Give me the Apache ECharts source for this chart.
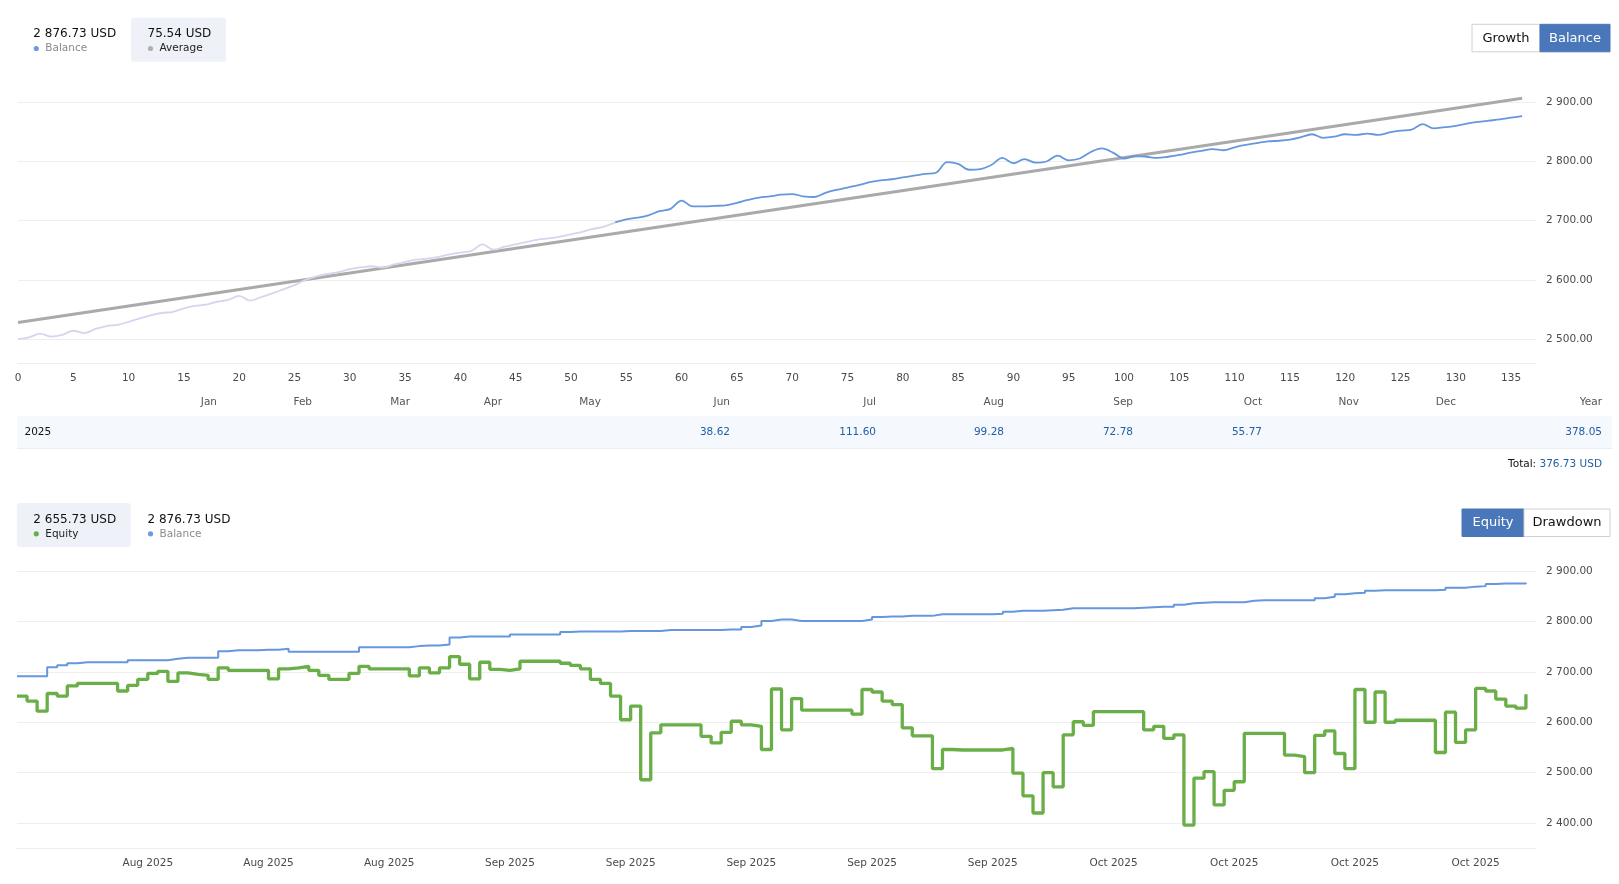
<!DOCTYPE html>
<html><head><meta charset="utf-8">
<script src="https://cdn.jsdelivr.net/npm/echarts@6/dist/echarts.min.js"></script>
<style>html,body{margin:0;padding:0;background:#fff}#c{width:1619px;height:884px}</style>
</head><body><div id="c"></div>
<script>
// ---------- DATA ----------
// Balance per trade (top chart), trade index 0..136
const tradeBalance = [
 2500,2503,2509,2504,2507,2514,2510,2517,2522,2524,
 2529,2535,2540,2544,2546,2552,2556,2558,2563,2566,
 2573,2565,2571,2577,2584,2591,2600,2606,2610,2613,
 2618,2621,2623,2621,2626,2630,2634,2636,2639,2643,
 2646,2649,2660,2651,2656,2660,2664,2668,2670,2673,
 2677,2681,2686,2690,2697,2702,2705,2709,2716,2720,
 2734,2724,2724,2725,2726,2730,2735,2739,2741,2744,
 2745,2741,2740,2747,2752,2756,2760,2765,2768,2770,
 2773,2776,2779,2781,2799,2796,2786,2787,2794,2806,
 2797,2804,2798,2800,2810,2802,2805,2816,2822,2815,
 2805,2809,2808,2806,2808,2811,2815,2818,2821,2819,
 2824,2828,2831,2834,2835,2837,2841,2846,2840,2842,
 2846,2845,2847,2845,2849,2852,2854,2863,2856,2858,
 2860,2864,2867,2869,2871,2874,2876.73
];
const highlightFromTrade = 54;          // balance line turns blue from this trade
const averageStart = 2528;              // trend line value at first trade
const averageEnd = 2907;                // trend line value at last trade

const legendTop = [
  {value: '2 876.73 USD', name: 'Balance', color: '#6a9be3', active: false},
  {value: '75.54 USD', name: 'Average', color: '#b0b0b0', active: true}
];
const legendBottom = [
  {value: '2 655.73 USD', name: 'Equity', color: '#6aae47', active: true},
  {value: '2 876.73 USD', name: 'Balance', color: '#6a9be3', active: false}
];

const monthNames = ['Jan','Feb','Mar','Apr','May','Jun','Jul','Aug','Sep','Oct','Nov','Dec','Year'];
const monthValues = [null,null,null,null,null,'38.62','111.60','99.28','72.78','55.77',null,null,'378.05'];
const yearLabel = '2025';
const totalValue = '376.73 USD';

// Equity / balance (bottom chart), sampled points
const equity = [
 2652,2642,2622,2657,2652,2672,2677,2677,2677,2677,
 2662,2673,2685,2697,2701,2681,2698,2695,2693,2685,
 2708,2703,2703,2703,2703,2686,2706,2708,2711,2703,
 2693,2685,2685,2697,2711,2706,2706,2706,2706,2692,
 2708,2698,2708,2730,2715,2686,2719,2705,2703,2706,
 2721,2721,2721,2721,2717,2713,2706,2685,2677,2652,
 2605,2632,2486,2579,2595,2595,2595,2595,2572,2559,
 2580,2602,2595,2592,2546,2666,2585,2647,2624,2624,
 2624,2624,2624,2616,2665,2660,2642,2635,2589,2573,
 2573,2508,2546,2545,2545,2545,2545,2545,2548,2499,
 2454,2420,2500,2472,2575,2601,2594,2621,2621,2621,
 2621,2621,2585,2592,2568,2575,2396,2489,2502,2436,
 2465,2482,2578,2578,2578,2578,2535,2532,2500,2574,
 2583,2538,2508,2665,2600,2660,2600,2604,2604,2604,
 2604,2540,2620,2560,2585,2667,2662,2646,2632,2628,
 2655.73
];
const balance = [
 2691,2691,2691,2709,2713,2717,2719,2719,2719,2719,
 2719,2723,2723,2723,2723,2726,2728,2728,2728,2728,
 2741,2743,2743,2743,2744,2744,2746,2740,2740,2740,
 2740,2740,2740,2740,2749,2749,2749,2749,2749,2751,
 2752,2752,2754,2768,2770,2770,2770,2770,2770,2774,
 2774,2774,2774,2774,2779,2780,2780,2780,2780,2780,
 2781,2781,2781,2781,2783,2783,2783,2783,2783,2783,
 2784,2784,2789,2792,2801,2804,2804,2801,2801,2801,
 2801,2801,2801,2801,2804,2809,2810,2810,2811,2811,
 2811,2814,2814,2814,2814,2814,2814,2815,2819,2821,
 2821,2821,2822,2823,2826,2826,2826,2826,2826,2826,
 2826,2827,2828,2829,2829,2833,2836,2837,2838,2838,
 2838,2838,2841,2842,2842,2842,2842,2842,2842,2846,
 2849,2854,2856,2857,2861,2862,2862,2862,2862,2862,
 2862,2863,2867,2867,2869,2870,2874,2875,2875,2875,
 2876.73
];
const equityTickLabels = ['Aug 2025','Aug 2025','Aug 2025','Sep 2025','Sep 2025','Sep 2025',
  'Sep 2025','Sep 2025','Oct 2025','Oct 2025','Oct 2025','Oct 2025'];

// ---------- LAYOUT ----------
const FONT = '"DejaVu Sans", Tahoma, sans-serif';
const monthRight = [217,312,410,502,601,730,876,1004,1133,1262,1359,1456,1602];
const firstTick = 13, tickStep = 12, categoryCount = 152;

const fmtMoney = v => {
  const s = Number(v).toFixed(2);
  const [a, b] = s.split('.');
  return a.replace(/\B(?=(\d{3})+(?!\d))/g, ' ') + '.' + b;
};

const graphic = [];
function legend(items, top, boxes, widths) {
  items.forEach((it, k) => {
    const bx = boxes[k];
    if (it.active) graphic.push({type:'rect', shape:{x:bx, y:top, width:widths[k], height:44, r:3},
      style:{fill:'#eef2f8'}});
    const tx = bx + 16.5;
    graphic.push({type:'text', x:tx, y:top+16.5, style:{text:it.value, fill:'#111', font:'12px '+FONT, align:'left', verticalAlign:'middle'}});
    graphic.push({type:'circle', shape:{cx:tx+3, cy:top+30.8, r:2.6}, style:{fill:it.color}});
    graphic.push({type:'text', x:tx+12, y:top+31, style:{text:it.name, fill: it.active ? '#222' : '#8a8a8a', font:'10.5px '+FONT, align:'left', verticalAlign:'middle'}});
  });
}
legend(legendTop, 17.7, [16.8, 131], [110, 95]);
legend(legendBottom, 503, [16.8, 131], [114, 95]);

function buttons(list, y, x0) {
  let x = x0;
  list.forEach(b => {
    graphic.push({type:'rect', shape:{x:x, y:y, width:b.w, height:27.5},
      style:{fill: b.on ? '#4a77b9' : '#fff', stroke: b.on ? '#4a77b9' : '#d0d0d0', lineWidth:1}});
    graphic.push({type:'text', x:x+b.w/2, y:y+14, style:{text:b.t, fill: b.on ? '#fff' : '#111', font:'13px '+FONT, align:'center', verticalAlign:'middle'}});
    x += b.w;
  });
}
buttons([{t:'Growth', w:68, on:false}, {t:'Balance', w:70, on:true}], 24.3, 1472);
buttons([{t:'Equity', w:62, on:true}, {t:'Drawdown', w:86, on:false}], 509, 1462);

// month table
graphic.push({type:'rect', shape:{x:17, y:416, width:1595, height:32}, style:{fill:'#f5f8fc'}});
graphic.push({type:'line', shape:{x1:17, y1:448.5, x2:1612, y2:448.5}, style:{stroke:'#e9eef4', lineWidth:1}});
monthNames.forEach((m, k) => {
  graphic.push({type:'text', x:monthRight[k], y:402.5, style:{text:m, fill:'#555', font:'10.5px '+FONT, align:'right', verticalAlign:'middle'}});
  if (monthValues[k] != null)
    graphic.push({type:'text', x:monthRight[k], y:432, style:{text:monthValues[k], fill:'#1f5fa6', font:'10.5px '+FONT, align:'right', verticalAlign:'middle'}});
});
graphic.push({type:'text', x:24.5, y:432, style:{text:yearLabel, fill:'#111', font:'10.5px '+FONT, align:'left', verticalAlign:'middle'}});
graphic.push({type:'text', x:1602, y:464.5, style:{
  text:'{a|Total:} {b|' + totalValue + '}', font:'10.5px '+FONT, align:'right', verticalAlign:'middle',
  rich:{a:{fill:'#111', font:'10.5px '+FONT}, b:{fill:'#1f5fa6', font:'10.5px '+FONT}}}});

// ---------- CHART ----------
const chart = echarts.init(document.getElementById('c'), null, {renderer:'canvas'});
const lastTrade = tradeBalance.length - 1;
const categories = Array.from({length: categoryCount}, (_, i) => String(i));
const tradePairs = tradeBalance.map((v, i) => [i, v]);
const earlyPairs = tradePairs.slice(0, highlightFromTrade + 1);
const latePairs = tradePairs.slice(highlightFromTrade);

const axisLabelStyle = {color:'#4a4a4a', fontFamily: FONT, fontSize: 10.5};
const splitStyle = {lineStyle:{color:'#eeeeee', width:1}};

chart.setOption({
  animation: false,
  backgroundColor: '#fff',
  graphic: graphic,
  grid: [
    {left:18, right:83, top:102.3, height:261},
    {left:17, right:83, top:571, height:277.3}
  ],
  xAxis: [
    {type:'value', gridIndex:0, min:0, max:137.25, interval:5,
     axisLine:{show:true, lineStyle:{color:'#eeeeee'}}, axisTick:{show:false},
     splitLine:{show:false},
     axisLabel:Object.assign({margin:9, showMaxLabel:false}, axisLabelStyle)},
    {type:'category', gridIndex:1, data:categories, boundaryGap:false,
     axisLine:{show:true, lineStyle:{color:'#eeeeee'}}, axisTick:{show:false},
     axisLabel:Object.assign({margin:9,
       interval: (i) => i >= firstTick && (i - firstTick) % tickStep === 0,
       formatter: (v, i) => equityTickLabels[(i - firstTick) / tickStep] || ''}, axisLabelStyle)}
  ],
  yAxis: [
    {type:'value', gridIndex:0, position:'right', min:2459, max:2900, splitNumber:5,
     axisLine:{show:false}, axisTick:{show:false}, splitLine:splitStyle,
     axisLabel:Object.assign({margin:10, showMinLabel:false, formatter:fmtMoney}, axisLabelStyle)},
    {type:'value', gridIndex:1, position:'right', min:2350, max:2900, splitNumber:5,
     axisLine:{show:false}, axisTick:{show:false}, splitLine:splitStyle,
     axisLabel:Object.assign({margin:10, showMinLabel:false, formatter:fmtMoney}, axisLabelStyle)}
  ],
  series: [
    {name:'Balance (earlier)', type:'line', xAxisIndex:0, yAxisIndex:0, smooth:0.35, showSymbol:false,
     data: earlyPairs, lineStyle:{width:1.8, color:'#d5d5f0'}, itemStyle:{color:'#d5d5f0'}, z:3},
    {name:'Balance', type:'line', xAxisIndex:0, yAxisIndex:0, smooth:0.35, showSymbol:false,
     data: latePairs, lineStyle:{width:1.8, color:'#6497dd'}, itemStyle:{color:'#6497dd'}, z:3},
    {name:'Average', type:'line', xAxisIndex:0, yAxisIndex:0, showSymbol:false, clip:false,
     data: [[0, averageStart], [lastTrade, averageEnd]],
     lineStyle:{width:3, color:'#aaaaaa'}, itemStyle:{color:'#aaaaaa'}, z:2},
    {name:'Balance ', type:'line', xAxisIndex:1, yAxisIndex:1, step:'end', showSymbol:false,
     data: balance, lineStyle:{width:2, color:'#6497dd'}, itemStyle:{color:'#6497dd'}},
    {name:'Equity', type:'line', xAxisIndex:1, yAxisIndex:1, step:'end', showSymbol:false,
     data: equity, lineStyle:{width:3.3, color:'#6aae47'}, itemStyle:{color:'#6aae47'}}
  ]
});
</script></body></html>
